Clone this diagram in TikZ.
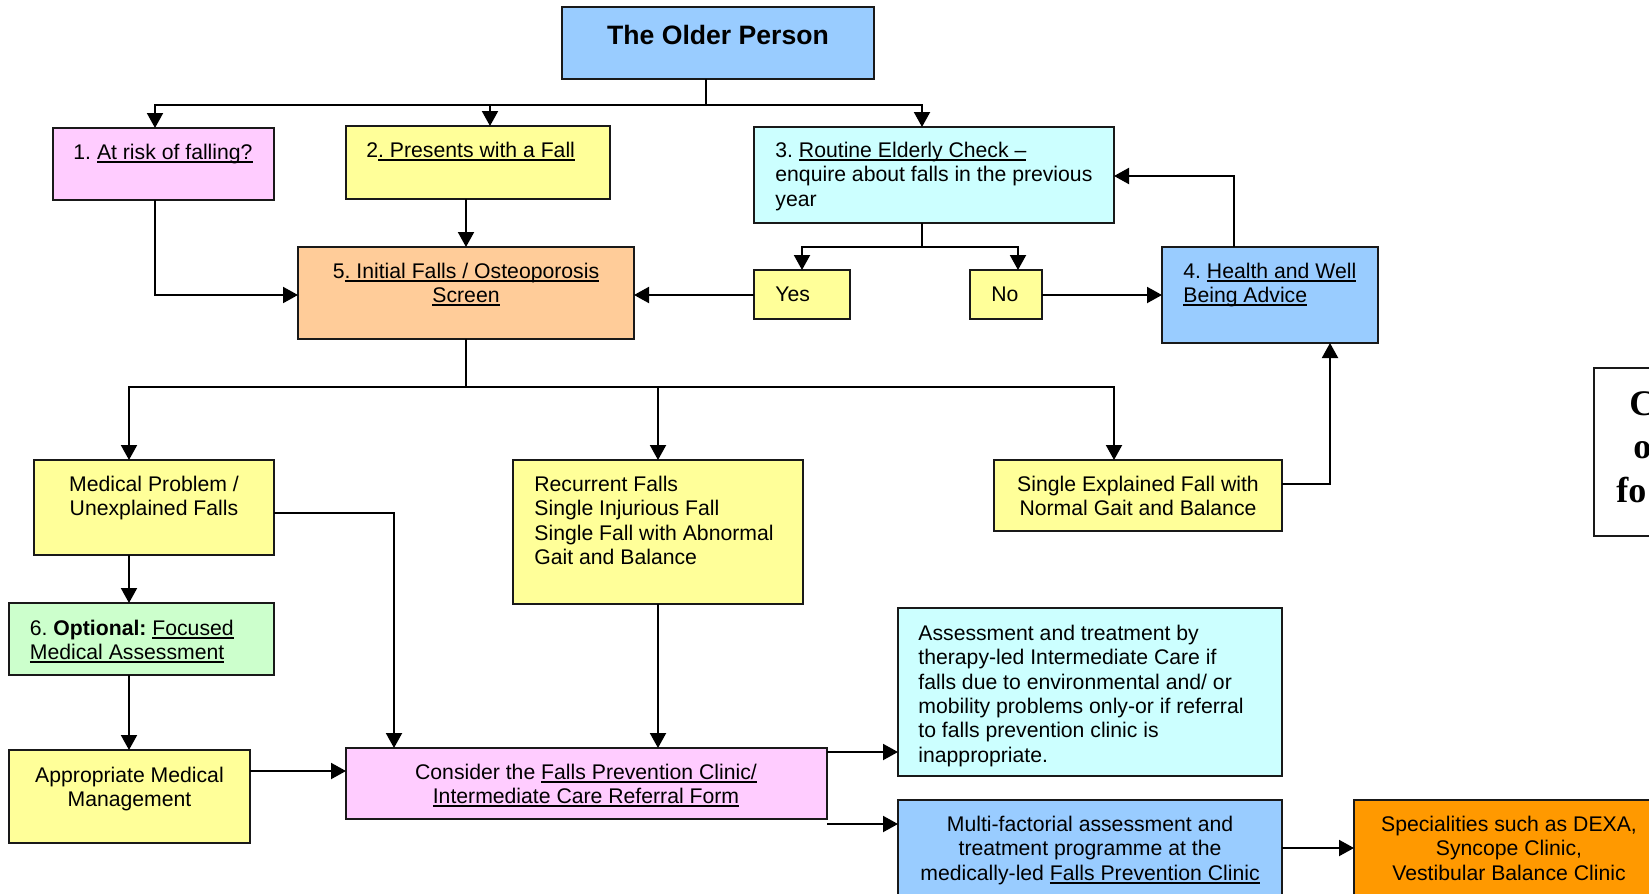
\documentclass[tikz,border=0pt]{standalone}
\usepackage{fontspec}
\setmainfont{Liberation Sans}
\newfontfamily\serifface{Liberation Serif}
\newcommand\myul[1]{\leavevmode\setbox0\hbox{#1}\rlap{\vrule height -0.85pt depth 1.85pt width \wd0}\box0}
\usetikzlibrary{arrows.meta,calc}
\definecolor{cBlue}{HTML}{99CCFF}
\definecolor{cPink}{HTML}{FFCCFF}
\definecolor{cYellow}{HTML}{FFFF99}
\definecolor{cCyan}{HTML}{CCFFFF}
\definecolor{cPeach}{HTML}{FFCC99}
\definecolor{cGreen}{HTML}{CCFFCC}
\definecolor{cOrange}{HTML}{FF9900}
\newcommand\fs{\fontsize{10.6}{12.2}\selectfont\frenchspacing}
\newcommand\mybox[6]{\node[bx,fill=#6,minimum width={(#4-#2)*0.5pt},minimum height={(#5-#3)*0.5pt}] (#1) at ({(#2+#4)/2},{(#3+#5)/2}) {};}
\tikzset{
  bx/.style={draw=black!90,line width=1pt,inner sep=0pt,outer sep=0pt,rectangle},
  txt/.style={inner sep=0pt,anchor=north,font=\fs},
  txl/.style={txt,anchor=north west,align=left},
  txc/.style={txt,anchor=north,align=center},
  ln/.style={line width=1pt},
  arr/.style={line width=1pt,-{Triangle[length=7.5pt,width=8pt]}},
  big/.style={inner sep=0pt,anchor=base west,font=\serifface\bfseries\fontsize{18}{21.8}\selectfont}
}
\begin{document}
\begin{tikzpicture}[x=0.5pt,y=-0.5pt]
\useasboundingbox (0,0) rectangle (1649,894);
\fill[white] (0,0) rectangle (1649,894);
% boxes
\mybox{title}{562}{7}{874}{79}{cBlue}
\mybox{b1}{53}{128}{274}{200}{cPink}
\mybox{b2}{346}{126}{610}{199}{cYellow}
\mybox{b3}{754}{127}{1114}{223}{cCyan}
\mybox{b5}{298}{247}{634}{339}{cPeach}
\mybox{yes}{754}{270}{850}{319}{cYellow}
\mybox{no}{970}{270}{1042}{319}{cYellow}
\mybox{b4}{1162}{247}{1378}{343}{cBlue}
\mybox{med}{34}{460}{274}{555}{cYellow}
\mybox{rec}{513}{460}{803}{604}{cYellow}
\mybox{sgl}{994}{460}{1282}{531}{cYellow}
\mybox{b6}{9}{603}{274}{675}{cGreen}
\mybox{app}{9}{750}{250}{843}{cYellow}
\mybox{con}{346}{748}{827}{819}{cPink}
\mybox{ass}{898}{608}{1282}{776}{cCyan}
\mybox{mul}{898}{800}{1282}{910}{cBlue}
\mybox{spc}{1354}{800}{1700}{910}{cOrange}
\mybox{rt}{1594}{368}{1700}{536}{white}
% texts
\node[inner sep=0pt,anchor=north,font=\bfseries\fontsize{13.3}{15}\selectfont] (tt) at (718,24.5) {The Older Person};
\node[txc] (t1) at (163,144) {1. \myul{At risk of falling?}};
\node[txl] (t2) at (366,141.5) {2\myul{. Presents with a Fall}};
\node[txl] (t3) at (775,141.5) {3. \myul{Routine Elderly Check –}\\enquire about falls in the previous\\year};
\node[txc] (t5) at (466,262.5) {5\myul{. Initial Falls / Osteoporosis}\\\myul{Screen}};
\node[txl] (tyes) at (775,286.5) {Yes};
\node[txl] (tno) at (991,286.5) {No};
\node[txl] (t4) at (1183,262.5) {4. \myul{Health and Well}\\\myul{Being Advice}};
\node[txc] (tmed) at (154,475.5) {Medical Problem /\\Unexplained Falls};
\node[txl] (trec) at (534,475.5) {Recurrent Falls\\Single Injurious Fall\\Single Fall with Abnormal\\Gait and Balance};
\node[txc] (tsgl) at (1138,475.5) {Single Explained Fall with\\Normal Gait and Balance};
\node[txl] (t6) at (29.5,619.5) {6. \textbf{Optional:} \myul{Focused}\\\myul{Medical Assessment}};
\node[txc] (tapp) at (129.5,766.5) {Appropriate Medical\\Management};
\node[txc] (tcon) at (586,763.5) {Consider the \myul{Falls Prevention Clinic/}\\\myul{Intermediate Care Referral Form}};
\node[txl] (tass) at (918,624.5) {Assessment and treatment by\\therapy-led Intermediate Care if\\falls due to environmental and/ or\\mobility problems only-or if referral\\to falls prevention clinic is\\inappropriate.};
\node[txc] (tmul) at (1090,815.5) {Multi-factorial assessment and\\treatment programme at the\\medically-led \myul{Falls Prevention Clinic}};
\node[txc] (tspc) at (1509,815.5) {Specialities such as DEXA,\\Syncope Clinic,\\Vestibular Balance Clinic};
\node[big] (r1) at (1629,415) {C};
\node[big] (r2) at (1633,458) {o};
\node[big] (r3) at (1616,502) {fo};
% helper coordinates
\coordinate (jt) at (706,105);
\coordinate (a1) at (155,0);
\coordinate (a2) at (490,0);
\coordinate (a3) at (922,0);
\coordinate (ano) at (1018,0);
\coordinate (a4) at (1234,0);
\coordinate (amed) at (129,0);
\coordinate (arec) at (658,0);
\coordinate (asgl) at (1114,0);
\coordinate (ax4) at (1330,0);
\coordinate (acon) at (394,0);
\coordinate (yy) at (0,295);
\coordinate (y176) at (0,176);
\coordinate (y484) at (0,484);
\coordinate (y513) at (0,513);
\coordinate (y771) at (0,771);
\coordinate (y752) at (0,752);
\coordinate (y848) at (0,848);
\coordinate (j3) at (922,247);
\coordinate (j5) at (466,387);
\coordinate (cm) at (827,824);
% connectors
\draw[ln] (title.south -| jt) -- (jt);
\draw[arr] (jt) -| (b1.north -| a1);
\draw[arr] (jt) -| (b2.north -| a2);
\draw[arr] (jt) -| (b3.north -| a3);
\draw[arr] (b1.south -| a1) |- (b5.west |- yy);
\draw[arr] (b2.south -| b5.north) -- (b5.north);
\draw[ln] (b3.south -| j3) -- (j3);
\draw[arr] (j3) -| (yes.north);
\draw[arr] (j3) -| (no.north -| ano);
\draw[arr] (yes.west |- yy) -- (b5.east |- yy);
\draw[arr] (no.east |- yy) -- (b4.west |- yy);
\draw[arr] (b4.north -| a4) |- (b3.east |- y176);
\draw[ln] (b5.south) -- (j5);
\draw[arr] (j5) -| (med.north -| amed);
\draw[arr] (j5) -| (rec.north -| arec);
\draw[arr] (j5) -| (sgl.north -| asgl);
\draw[arr] (sgl.east |- y484) -| (b4.south -| ax4);
\draw[arr] (med.east |- y513) -| (con.north -| acon);
\draw[arr] (med.south -| amed) -- (b6.north -| amed);
\draw[arr] (b6.south -| amed) -- (app.north -| amed);
\draw[arr] (app.east |- y771) -- (con.west |- y771);
\draw[arr] (rec.south -| arec) -- (con.north -| arec);
\draw[arr] (con.east |- y752) -- (ass.west |- y752);
\draw[arr] (cm) -- (mul.west |- cm);
\draw[arr] (mul.east |- y848) -- (spc.west |- y848);
\end{tikzpicture}
\end{document}
